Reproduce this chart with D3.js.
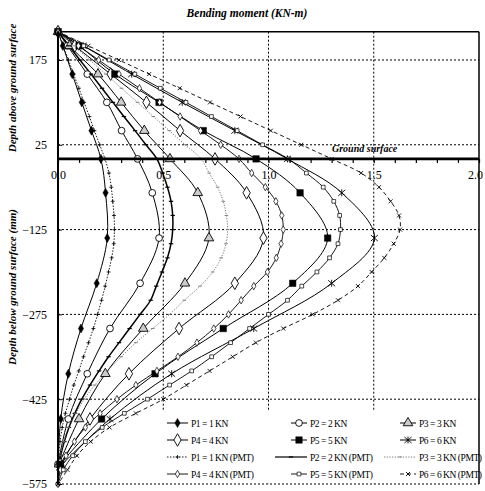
<!DOCTYPE html>
<html><head><meta charset="utf-8">
<script src="https://cdn.jsdelivr.net/npm/d3@7"></script>
<style>body{margin:0;background:#fff} svg{display:block}</style>
</head><body><svg id="c" width="485" height="491"></svg>
<script>
// ---------- data ----------
const measuredDepth = [225, 200, 150, 100, 50, 0, -60, -140, -220, -300, -380, -460, -540];
const P1 = [0, 0.023, 0.068, 0.113, 0.159, 0.204, 0.226, 0.234, 0.184, 0.109, 0.049, 0.013, 0];
const P2 = [0, 0.045, 0.139, 0.232, 0.302, 0.378, 0.448, 0.480, 0.390, 0.247, 0.139, 0.049, 0];
const P3 = [0, 0.055, 0.190, 0.300, 0.410, 0.532, 0.664, 0.717, 0.603, 0.405, 0.225, 0.100, 0.005];
const P4 = [0, 0.080, 0.250, 0.420, 0.580, 0.746, 0.896, 0.976, 0.840, 0.575, 0.337, 0.152, 0.010];
const P5 = [0, 0.100, 0.270, 0.480, 0.690, 0.941, 1.150, 1.281, 1.115, 0.785, 0.461, 0.207, 0.010];
const P6 = [0, 0.120, 0.350, 0.590, 0.840, 1.090, 1.348, 1.503, 1.300, 0.930, 0.540, 0.247, 0.020];

const pmtDepth = [225, 200, 175, 150, 125, 100, 75, 50, 25, 0, -25, -50, -75, -100, -125, -150, -175,
  -200, -225, -250, -275, -300, -325, -350, -375, -400, -425, -450, -475, -500, -525, -550, -575];
const P1pmt = [0, 0.025, 0.050, 0.074, 0.099, 0.124, 0.149, 0.173, 0.198, 0.223, 0.242, 0.253, 0.260, 0.266, 0.268, 0.265, 0.255,
  0.240, 0.224, 0.207, 0.188, 0.168, 0.145, 0.121, 0.099, 0.075, 0.055, 0.035, 0.020, 0.010, 0.004, 0.001, 0];
const P2pmt = [0, 0.052, 0.104, 0.157, 0.209, 0.261, 0.313, 0.366, 0.418, 0.470, 0.497, 0.520, 0.537, 0.545, 0.545, 0.537, 0.520,
  0.494, 0.467, 0.440, 0.390, 0.340, 0.290, 0.240, 0.195, 0.152, 0.113, 0.080, 0.052, 0.030, 0.013, 0.004, 0];
const P3pmt = [0, 0.076, 0.151, 0.227, 0.302, 0.378, 0.453, 0.529, 0.604, 0.680, 0.718, 0.758, 0.785, 0.800, 0.806, 0.798, 0.775,
  0.735, 0.675, 0.600, 0.530, 0.450, 0.370, 0.300, 0.235, 0.175, 0.125, 0.085, 0.050, 0.027, 0.012, 0.003, 0];
const P4pmt = [0, 0.097, 0.193, 0.290, 0.387, 0.483, 0.580, 0.677, 0.773, 0.860, 0.920, 0.985, 1.035, 1.063, 1.070, 1.060, 1.037,
  0.995, 0.930, 0.870, 0.810, 0.740, 0.660, 0.570, 0.470, 0.370, 0.280, 0.200, 0.130, 0.078, 0.038, 0.012, 0];
const P5pmt = [0, 0.122, 0.243, 0.365, 0.486, 0.608, 0.729, 0.851, 0.972, 1.094, 1.180, 1.260, 1.310, 1.338, 1.342, 1.330, 1.290,
  1.230, 1.158, 1.090, 1.000, 0.910, 0.820, 0.730, 0.635, 0.530, 0.425, 0.315, 0.210, 0.130, 0.070, 0.025, 0];
const P6pmt = [0, 0.144, 0.289, 0.433, 0.578, 0.722, 0.867, 1.011, 1.156, 1.300, 1.440, 1.525, 1.580, 1.620, 1.625, 1.595, 1.550,
  1.490, 1.425, 1.330, 1.210, 1.070, 0.940, 0.830, 0.720, 0.610, 0.500, 0.370, 0.245, 0.155, 0.090, 0.045, 0];

const seriesNames = ["P1 = 1 KN", "P2 = 2 KN", "P3 = 3 KN", "P4 = 4 KN", "P5 = 5 KN", "P6 = 6 KN",
  "P1 = 1 KN (PMT)", "P2 = 2 KN (PMT)", "P3 = 3 KN (PMT)", "P4 = 4 KN (PMT)", "P5 = 5 KN (PMT)", "P6 = 6 KN (PMT)"];
const xTickLabels = [0, 0.5, 1.0, 1.5, 2.0];
const xMinorTicks = [0, 0.1, 0.2, 0.3, 0.4, 0.5, 0.6, 0.7, 0.8, 0.9, 1.0, 1.1, 1.2, 1.3, 1.4, 1.5, 1.6, 1.7, 1.8, 1.9, 2.0];
const yTickLabels = [175, 25, -125, -275, -425, -575];
const xGrid = [0.5, 1.0, 1.5];

// ---------- layout ----------
const FONT = "'Liberation Serif','Times New Roman',serif";
const svg = d3.select("#c");
const x = d3.scaleLinear().domain([0, 2]).range([58, 479]);
const y = d3.scaleLinear().domain([-575, 225]).range([484, 31.7]);

const sym = (t, s) => d3.symbol(t, s)();
const markers = {
  diamondFilled: {d: sym(d3.symbolDiamond, 24), fill: "#000", stroke: "#000", sw: 0.5},
  circleOpen: {d: sym(d3.symbolCircle, 36), fill: "#fff", stroke: "#000", sw: 0.9},
  triangleOpen: {d: sym(d3.symbolTriangle, 40), fill: "#ccc", stroke: "#000", sw: 0.9},
  diamondOpen: {d: sym(d3.symbolDiamond, 46), fill: "#fff", stroke: "#000", sw: 0.9},
  squareFilled: {d: sym(d3.symbolSquare, 42), fill: "#000", stroke: "#000", sw: 0.5},
  asterisk: {d: "M-3.5,-3L3.5,3M-3.5,3L3.5,-3M0,-3.5V3.5", fill: "none", stroke: "#000", sw: 0.9},
  plus: {d: "M-2,0H2M0,-2V2", fill: "none", stroke: "#000", sw: 0.8},
  dash: {d: "M-2.2,0H2.2", fill: "none", stroke: "#000", sw: 1.2},
  tick: {d: "M-1.8,0H1.8", fill: "none", stroke: "#777", sw: 0.9},
  smallDiamond: {d: sym(d3.symbolDiamond, 16), fill: "#fff", stroke: "#000", sw: 0.7},
  smallSquare: {d: sym(d3.symbolSquare, 14), fill: "#fff", stroke: "#000", sw: 0.7},
  xMark: {d: "M-2,-2L2,2M-2,2L2,-2", fill: "none", stroke: "#000", sw: 0.9}
};

const series = [
  {name: seriesNames[0], depth: measuredDepth, vals: P1, m: "diamondFilled", stroke: "#000", sw: 1, dash: null},
  {name: seriesNames[1], depth: measuredDepth, vals: P2, m: "circleOpen", stroke: "#000", sw: 1, dash: null},
  {name: seriesNames[2], depth: measuredDepth, vals: P3, m: "triangleOpen", stroke: "#000", sw: 1, dash: null},
  {name: seriesNames[3], depth: measuredDepth, vals: P4, m: "diamondOpen", stroke: "#000", sw: 1, dash: null},
  {name: seriesNames[4], depth: measuredDepth, vals: P5, m: "squareFilled", stroke: "#000", sw: 1, dash: null},
  {name: seriesNames[5], depth: measuredDepth, vals: P6, m: "asterisk", stroke: "#000", sw: 1, dash: null},
  {name: seriesNames[6], depth: pmtDepth, vals: P1pmt, m: "plus", stroke: "#000", sw: 0.9, dash: "1.5,1.5"},
  {name: seriesNames[7], depth: pmtDepth, vals: P2pmt, m: "dash", stroke: "#000", sw: 1.5, dash: null},
  {name: seriesNames[8], depth: pmtDepth, vals: P3pmt, m: "tick", stroke: "#666", sw: 0.9, dash: "1.2,1.5"},
  {name: seriesNames[9], depth: pmtDepth, vals: P4pmt, m: "smallDiamond", stroke: "#000", sw: 0.9, dash: null},
  {name: seriesNames[10], depth: pmtDepth, vals: P5pmt, m: "smallSquare", stroke: "#000", sw: 0.9, dash: null},
  {name: seriesNames[11], depth: pmtDepth, vals: P6pmt, m: "xMark", stroke: "#000", sw: 0.9, dash: "4,3"}
];

// grid
const grid = svg.append("g").attr("stroke", "#000").attr("stroke-width", 1).attr("stroke-dasharray", "2,2");
grid.selectAll(".gx").data(xGrid).join("line")
  .attr("x1", d => x(d)).attr("x2", d => x(d)).attr("y1", y(225)).attr("y2", y(-575));
grid.selectAll(".gy").data(yTickLabels).join("line")
  .attr("x1", x(0)).attr("x2", x(2)).attr("y1", d => y(d)).attr("y2", d => y(d));

// borders (top & right solid)
svg.append("line").attr("x1", x(0)).attr("x2", x(2)).attr("y1", y(225)).attr("y2", y(225))
  .attr("stroke", "#000").attr("stroke-width", 1.5);
svg.append("line").attr("x1", x(2)).attr("x2", x(2)).attr("y1", y(225)).attr("y2", y(-575))
  .attr("stroke", "#000").attr("stroke-width", 1.5);

// curves
const line = d3.line().curve(d3.curveCatmullRom.alpha(0.5));
const cg = svg.append("g");
series.forEach(s => {
  const pts = s.depth.map((d, i) => [x(s.vals[i]), y(d)]);
  cg.append("path").attr("d", line(pts)).attr("fill", "none")
    .attr("stroke", s.stroke).attr("stroke-width", s.sw)
    .attr("stroke-dasharray", s.dash);
});
series.forEach(s => {
  const mk = markers[s.m];
  cg.append("g").selectAll("path").data(s.depth.map((d, i) => [s.vals[i], d])).join("path")
    .attr("d", mk.d).attr("transform", d => `translate(${x(d[0])},${y(d[1])})`)
    .attr("fill", mk.fill).attr("stroke", mk.stroke).attr("stroke-width", mk.sw);
});

// ground surface axis (x axis at depth 0)
const xAxis = d3.axisBottom(x).tickValues(xMinorTicks).tickSize(4).tickPadding(8)
  .tickFormat(d => xTickLabels.some(v => Math.abs(v - d) < 1e-9) ? d3.format(".1f")(d) : "");
const gx = svg.append("g").attr("transform", `translate(0,${y(0)})`).call(xAxis);
gx.select(".domain").remove();
gx.selectAll(".tick line").attr("stroke", "#000").attr("stroke-width", 1.2);
gx.selectAll("text").attr("font-family", FONT).attr("font-size", 12).attr("fill", "#000");
gx.selectAll(".tick").filter(d => Math.abs(d - 2) < 1e-9).select("text").attr("text-anchor", "end").attr("dx", 3.5);
svg.append("line").attr("x1", x(0)).attr("x2", x(2)).attr("y1", y(0)).attr("y2", y(0))
  .attr("stroke", "#000").attr("stroke-width", 2.6);

// left axis
const yAxis = d3.axisLeft(y).tickValues(yTickLabels).tickSize(-4).tickPadding(11).tickFormat(d3.format("d"));
const gy = svg.append("g").attr("transform", `translate(${x(0)},0)`).call(yAxis);
gy.select(".domain").remove();
gy.selectAll(".tick line").attr("stroke", "#000");
gy.selectAll("text").attr("font-family", FONT).attr("font-size", 12).attr("fill", "#000");
svg.append("line").attr("x1", x(0)).attr("x2", x(0)).attr("y1", y(225)).attr("y2", y(-575))
  .attr("stroke", "#000").attr("stroke-width", 2);

// texts
const bi = sel => sel.attr("font-family", FONT).attr("font-weight", "bold").attr("font-style", "italic").attr("fill", "#000");
svg.append("text").attr("x", 247).attr("y", 17).attr("text-anchor", "middle").attr("font-size", 11.5)
  .text("Bending moment (KN-m)").call(bi);
svg.append("text").attr("transform", "translate(15.5,88) rotate(-90)").attr("text-anchor", "middle").attr("font-size", 11)
  .text("Depth above ground surface").call(bi);
svg.append("text").attr("transform", "translate(15.5,287) rotate(-90)").attr("text-anchor", "middle").attr("font-size", 11)
  .text("Depth below ground surface (mm)").call(bi);
svg.append("text").attr("x", 332).attr("y", 152).attr("font-size", 10)
  .text("Ground surface").call(bi);

// legend
const lg = svg.append("g");
lg.append("rect").attr("x", 155).attr("y", 411).attr("width", x(2) - 156).attr("height", 72).attr("fill", "#fff");
const colText = [191, 310, 419];
const colLine = [[167, 188], [291, 307], [400, 416]];
const rowY = [423, 440, 457, 474];
series.forEach((s, i) => {
  const r = Math.floor(i / 3), c = i % 3;
  let [x0, x1] = colLine[c];
  if (r === 2 && c > 0) x0 -= 16;
  const yy = rowY[r];
  lg.append("line").attr("x1", x0).attr("x2", x1).attr("y1", yy).attr("y2", yy)
    .attr("stroke", s.stroke).attr("stroke-width", Math.min(s.sw, 1.2)).attr("stroke-dasharray", s.dash);
  const mk = markers[s.m];
  lg.append("path").attr("d", mk.d).attr("transform", `translate(${(x0 + x1) / 2},${yy})`)
    .attr("fill", mk.fill).attr("stroke", mk.stroke).attr("stroke-width", mk.sw);
  lg.append("text").attr("x", colText[c]).attr("y", yy + 3.5).attr("font-family", FONT).attr("font-size", 9.5)
    .attr("letter-spacing", -0.45).attr("fill", "#000").text(s.name);
});
</script></body></html>
